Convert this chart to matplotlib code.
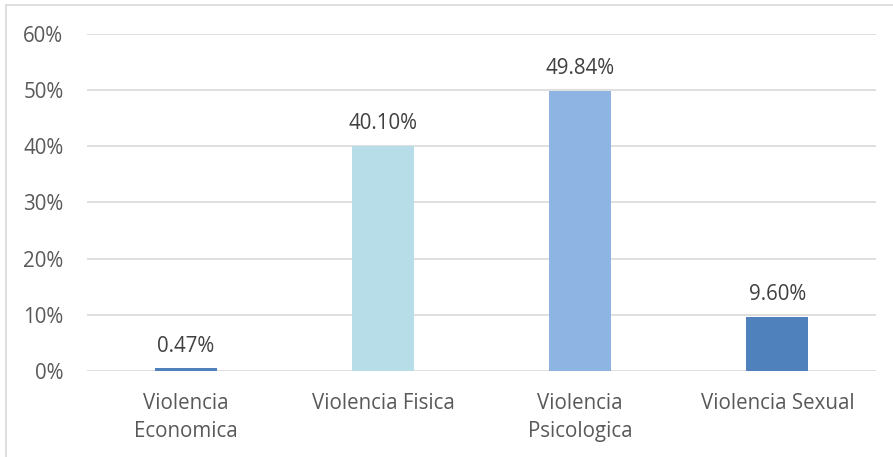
import matplotlib.pyplot as plt
from matplotlib.patches import Rectangle

# Data
categorias = ['Violencia\nEconomica', 'Violencia Fisica', 'Violencia\nPsicologica', 'Violencia Sexual']
valores = [0.0047, 0.4010, 0.4984, 0.0960]
etiquetas = ['0.47%', '40.10%', '49.84%', '9.60%']
colores = ['#4F81BD', '#B7DDE8', '#8EB4E3', '#4F81BD']

plt.rcParams['font.family'] = ['Open Sans', 'DejaVu Sans']
texto = '#595959'
fs = 14.8

fig = plt.figure(figsize=(8.93, 4.57), dpi=100)
ax = fig.add_axes([87 / 893, 1 - 371 / 457, 789 / 893, 337 / 457])

x = range(len(categorias))
bars = ax.bar(x, valores, width=0.315, color=colores, zorder=3)

for b, lab in zip(bars, etiquetas):
    ax.annotate(lab, (b.get_x() + b.get_width() / 2, b.get_height()),
                xytext=(0, 16), textcoords='offset points',
                ha='center', va='center', fontsize=fs, color='#404040')

ax.set_xlim(-0.5, 3.5)
ax.set_ylim(0, 0.6)
ax.set_yticks([0, 0.1, 0.2, 0.3, 0.4, 0.5, 0.6])
ax.set_yticklabels(['0%', '10%', '20%', '30%', '40%', '50%', '60%'])
ax.set_xticks(list(x))
ax.set_xticklabels(categorias, linespacing=1.45)
ax.tick_params(axis='both', length=0, labelsize=fs, labelcolor=texto)
ax.tick_params(axis='x', pad=16)
ax.tick_params(axis='y', pad=17)

ax.grid(axis='y', color='#D9D9D9', linewidth=1.2, zorder=0)
for s in ax.spines.values():
    s.set_visible(False)

# chart area border
fig.patches.append(Rectangle((6 / 893, -0.1), 1.2, 1 - 5 / 457 + 0.1,
                             transform=fig.transFigure, fill=False,
                             edgecolor='#D9D9D9', linewidth=1.2))

fig.savefig('out.png', dpi=100)
